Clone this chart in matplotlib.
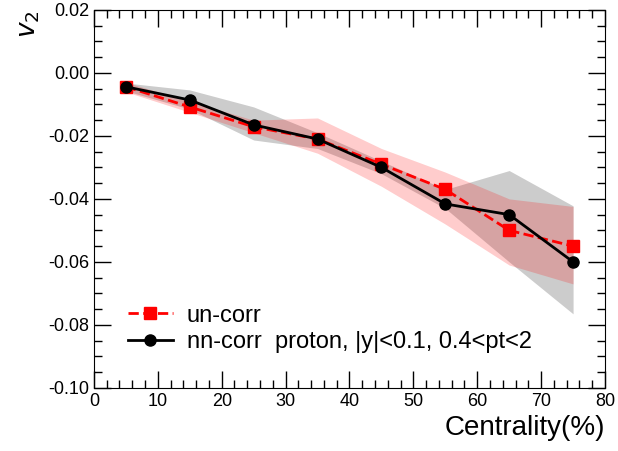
import matplotlib.pyplot as plt
import numpy as np

plt.rcParams['font.family'] = ['Liberation Sans', 'DejaVu Sans']

cent = [5, 15, 25, 35, 45, 55, 65, 75]

# un-corr
v2_uncorr = [-0.0044, -0.0108, -0.0171, -0.0210, -0.0290, -0.0370, -0.0500, -0.0550]
uncorr_hi = [-0.0030, -0.0090, -0.0150, -0.0143, -0.0240, -0.0315, -0.0400, -0.0424]
uncorr_lo = [-0.0060, -0.0125, -0.0190, -0.0255, -0.0360, -0.0480, -0.0610, -0.0670]

# nn-corr
v2_nncorr = [-0.0044, -0.0086, -0.0165, -0.0210, -0.0300, -0.0416, -0.0450, -0.0600]
nncorr_hi = [-0.0032, -0.0054, -0.0108, -0.0190, -0.0280, -0.0370, -0.0310, -0.0422]
nncorr_lo = [-0.0057, -0.0115, -0.0213, -0.0240, -0.0320, -0.0430, -0.0600, -0.0765]

fig = plt.figure(figsize=(6.18, 4.51), dpi=100)
ax = fig.add_axes([0.152, 0.140, 0.827, 0.838])

ax.fill_between(cent, nncorr_lo, nncorr_hi, color='black', alpha=0.2, linewidth=0)
ax.fill_between(cent, uncorr_lo, uncorr_hi, color='red', alpha=0.2, linewidth=0)

ax.plot(cent, v2_uncorr, color='red', linestyle='--', linewidth=2, marker='s',
        markersize=8, label='un-corr')
ax.plot(cent, v2_nncorr, color='black', linestyle='-', linewidth=2, marker='o',
        markersize=8, label='nn-corr  proton, |y|<0.1, 0.4<pt<2')

ax.set_xlim(0, 80)
ax.set_ylim(-0.10, 0.02)
ax.set_xticks(np.arange(0, 81, 10))
ax.set_xticks(np.arange(0, 81, 2), minor=True)
ax.set_yticks(np.arange(-0.10, 0.021, 0.02))
ax.set_yticks(np.arange(-0.10, 0.021, 0.005), minor=True)
ax.set_yticklabels(['%.2f' % v for v in np.arange(-0.10, 0.021, 0.02)])

ax.tick_params(which='both', direction='in', top=True, right=True, labelsize=13)
ax.tick_params(which='major', length=12, width=1)
ax.tick_params(which='minor', length=6, width=1)

ax.set_xlabel('Centrality(%)', fontsize=20, loc='right')
ax.set_ylabel('$v_2$', fontsize=19, loc='top')

ax.legend(loc='lower left', bbox_to_anchor=(0.025, 0.035), frameon=False, fontsize=17,
          handlelength=1.9, handletextpad=0.6, labelspacing=0.2)

plt.savefig('out.png', dpi=100)
